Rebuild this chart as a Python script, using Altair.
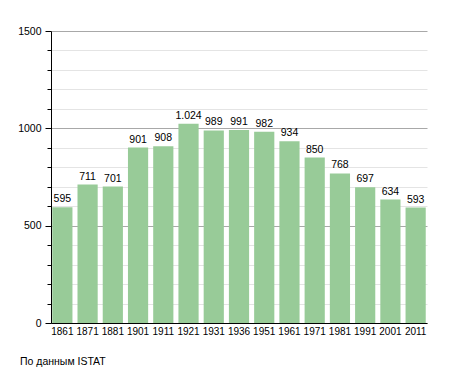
import altair as alt
import pandas as pd

years = ["1861", "1871", "1881", "1901", "1911", "1921", "1931", "1936",
         "1951", "1961", "1971", "1981", "1991", "2001", "2011"]
population = [595, 711, 701, 901, 908, 1024, 989, 991, 982, 934, 850, 768, 697, 634, 593]
y_ticks = list(range(0, 1501, 100))
source_note = "По данным  ISTAT"

df = pd.DataFrame({
    "year": years,
    "pop": population,
    "label": [f"{v:,}".replace(",", ".") for v in population],
})

FONT = "Liberation Sans"

x_enc = alt.X("year:N", sort=years, title=None,
              scale=alt.Scale(paddingInner=0.2, paddingOuter=0.05),
              axis=alt.Axis(labelAngle=0, ticks=False, domainColor="black", grid=False,
                            labelFont=FONT, labelFontSize=10, labelColor="black",
                            labelPadding=3, labelOverlap=False))
y_enc = alt.Y("pop:Q", title=None,
              scale=alt.Scale(domain=[0, 1500], nice=False),
              axis=alt.Axis(values=y_ticks, domainColor="black", grid=True,
                            labelExpr="datum.value % 500 == 0 ? datum.value : ''",
                            labelOverlap=False, labelFlush=False,
                            labelFont=FONT, labelFontSize=10.5, labelColor="black",
                            labelPadding=4,
                            tickColor="black",
                            tickSize=alt.condition("datum.value % 500 == 0", alt.value(6), alt.value(4)),
                            gridColor=alt.condition("datum.value % 500 == 0", alt.value("#a8a8a8"), alt.value("#e4e4e4")),
                            gridWidth=1))

base = alt.Chart(df).encode(x=x_enc, y=y_enc)

bars = base.mark_bar(color="#98CB98")

labels = base.mark_text(baseline="bottom", dy=-3, font=FONT, fontSize=10.5,
                        color="black").encode(text="label:N")

note = alt.Chart(pd.DataFrame({"t": [source_note]})).mark_text(
    align="left", baseline="middle", font=FONT, fontSize=10.5, color="black").encode(
    x=alt.value(-31), y=alt.value(331), text="t:N")

chart = alt.layer(bars, labels, note).properties(
    width=376, height=292,
    autosize=alt.AutoSizeParams(type="none"),
    padding={"left": 43, "top": 23, "right": 20, "bottom": 45},
).configure_view(stroke=None)

chart.save("out.html", embed_options={"renderer": "svg", "actions": False})
